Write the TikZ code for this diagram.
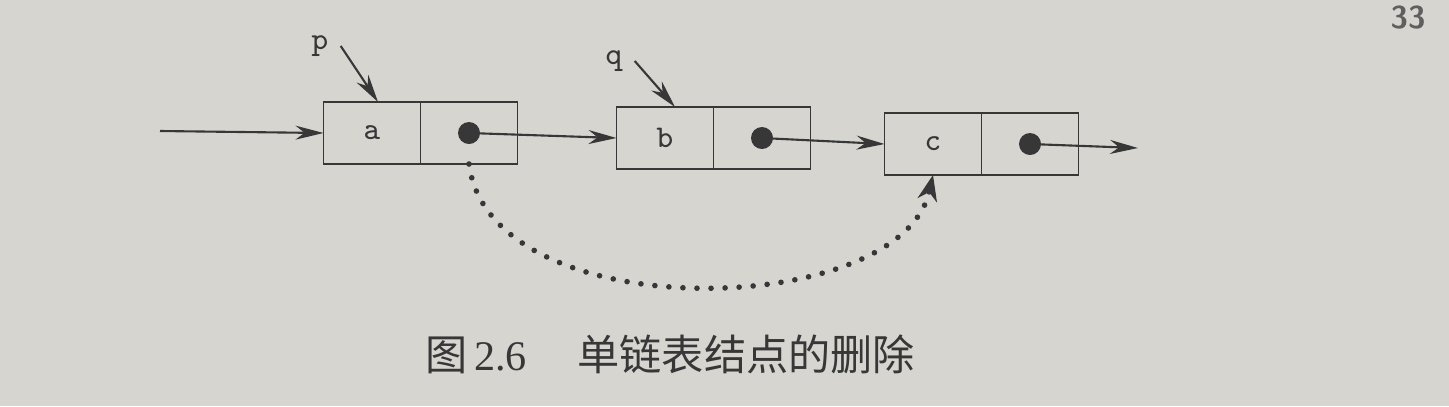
\documentclass[tikz,border=0pt]{standalone}
\usepackage{fontspec}
\newfontfamily\cjk{Noto Sans CJK SC}
\newfontfamily\numfont{Liberation Serif}
\usetikzlibrary{arrows.meta,positioning}

\definecolor{paper}{RGB}{214,213,208}
\definecolor{ink}{RGB}{55,55,55}

\tikzset{
  cell/.style={draw=ink, thin, minimum width=0.97cm, minimum height=0.62cm,
    inner sep=0pt, outer sep=0pt, font=\ttfamily\small, text=ink},
  link/.style={draw=ink, semithick, -{Stealth[length=2.8mm,width=1.4mm]}},
  skiplink/.style={draw=ink, line width=1.6pt, line cap=round,
    dash pattern=on 0pt off 4pt,
    -{Stealth[length=2.6mm,width=2mm,line width=0.4pt]}}
}

\begin{document}
\begin{tikzpicture}

    % Paper and picture size
    \path[use as bounding box, fill=paper] (0,0) rectangle (14.49,4.06);

    % --- THE THREE LIST NODES ---
    \node[cell] (a) at (3.72,2.73) {a};
    \node[cell, right=0pt of a] (an) {};
    \node[cell] (b) at (6.65,2.68) {b};
    \node[cell, right=0pt of b] (bn) {};
    \node[cell] (c) at (9.33,2.62) {c};
    \node[cell, right=0pt of c] (cn) {};

    % Pointer dots in the next fields
    \fill[ink] (an.center) circle (0.11);
    \fill[ink] (bn.center) circle (0.11);
    \fill[ink] (cn.center) circle (0.11);

    % Free ends of the head and tail links
    \coordinate (head) at (1.6,2.75);
    \coordinate (tail) at (11.38,2.58);

    % Links along the list
    \draw[link] (head) -- (a.west);
    \draw[link] (an.center) -- (b.west);
    \draw[link] (bn.center) -- (c.west);
    \draw[link] (cn.center) -- (tail);

    % --- POINTERS p AND q ---
    \node[font=\ttfamily\small, text=ink] (p) at (3.2,3.6) {p};
    \node[font=\ttfamily\small, text=ink] (q) at (6.14,3.45) {q};
    \draw[link] (p.east) -- ([xshift=0.06cm]a.north);
    \draw[link] (q.east) -- ([xshift=0.1cm]b.north);

    % --- DELETION: a now points to c ---
    \draw[skiplink] (an.south) .. controls (4.9,0.76) and (9.0,0.86) .. (c.south);

    % Caption
    \node[text=ink, font=\large] (cap) at (6.7,0.52)
        {{\cjk 图}\,{\numfont 2.6}\hspace{1.2em}{\cjk 单链表结点的删除}};

    % Page number
    \node[text=ink!80, font=\small\sffamily\bfseries] (page) at (14.08,3.88) {33};

\end{tikzpicture}
\end{document}
